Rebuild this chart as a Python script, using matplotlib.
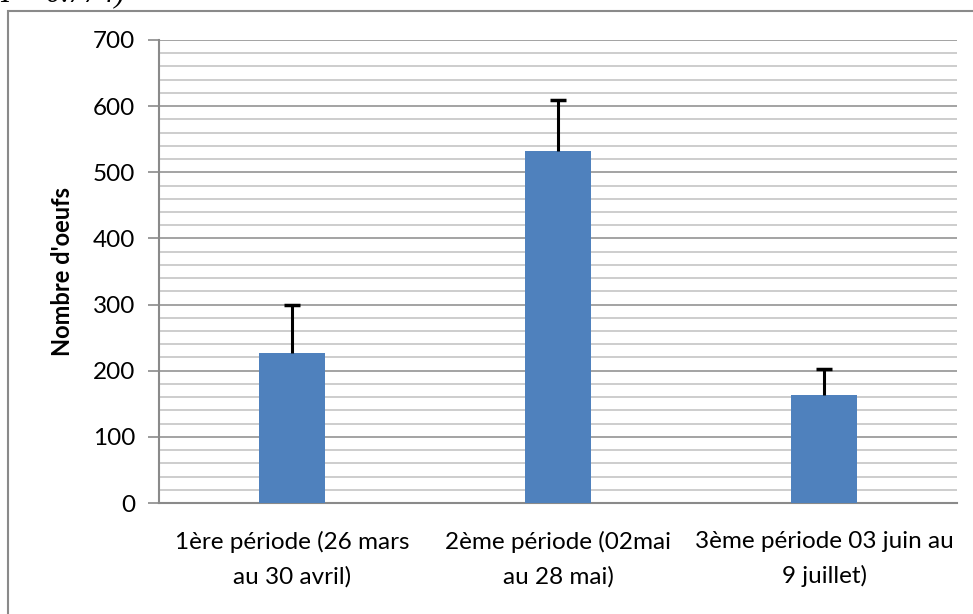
import matplotlib
matplotlib.use("Agg")
import matplotlib.pyplot as plt
from matplotlib.patches import Rectangle
from matplotlib.ticker import MultipleLocator

# data
periods = ["1ère période (26 mars\nau 30 avril)",
           "2ème période (02mai\nau 28 mai)",
           "3ème période 03 juin au\n9 juillet)"]
eggs = [227, 532, 163]
eggs_err = [72, 77, 39]

plt.rcParams['font.family'] = ['Lato', 'DejaVu Sans']

fig = plt.figure(figsize=(9.73, 6.14), dpi=100)
W, H = 973, 614

# chart area frame (cut by the page edge on the right and bottom)
fig.patches.append(Rectangle((8 / W, -0.05), 1.1, 1 - 11 / H + 0.05,
                             transform=fig.transFigure, fill=False,
                             edgecolor="#8a8a8a", linewidth=1.5))

# caption fragment above, clipped by the top edge
fig.text(0, 1 - 8 / H, "I = 0.774)", family="Liberation Serif",
         style="italic", fontsize=22, va="bottom", ha="left")

ax = fig.add_axes([159 / W, 1 - 503 / H, (957 - 159) / W, (503 - 40) / H])

x = list(range(len(periods)))
tops = [v + e for v, e in zip(eggs, eggs_err)]
ax.bar(x, eggs, width=0.245, color="#4F81BD", zorder=3)
ax.vlines(x, eggs, tops, color="black", linewidth=2.2, zorder=4)
ax.scatter(x, tops, marker="_", s=140, color="black", linewidths=2.5, zorder=4)

ax.set_xlim(-0.5, len(periods) - 0.5)
ax.set_ylim(0, 700)
ax.yaxis.set_major_locator(MultipleLocator(100))
ax.yaxis.set_minor_locator(MultipleLocator(20))
ax.grid(axis="y", which="major", color="#8a8a8a", linewidth=1.1, zorder=0)
ax.grid(axis="y", which="minor", color="#c0c0c0", linewidth=1.1, zorder=0)
ax.set_axisbelow(True)

ax.set_xticks(x)
ax.set_xticklabels(periods, fontsize=17.5, linespacing=1.75)
ax.tick_params(axis="x", length=0, pad=20)
ax.tick_params(axis="y", which="major", length=8, width=1.2, color="#8a8a8a",
               labelsize=17.5, pad=9)
ax.tick_params(axis="y", which="minor", length=0)

for side in ["top", "right"]:
    ax.spines[side].set_visible(False)
for side in ["left", "bottom"]:
    ax.spines[side].set_color("#8a8a8a")
    ax.spines[side].set_linewidth(1.5)

ax.set_ylabel("Nombre d'oeufs", fontsize=17, fontweight="bold", labelpad=14)

fig.savefig("out.png", dpi=100)
